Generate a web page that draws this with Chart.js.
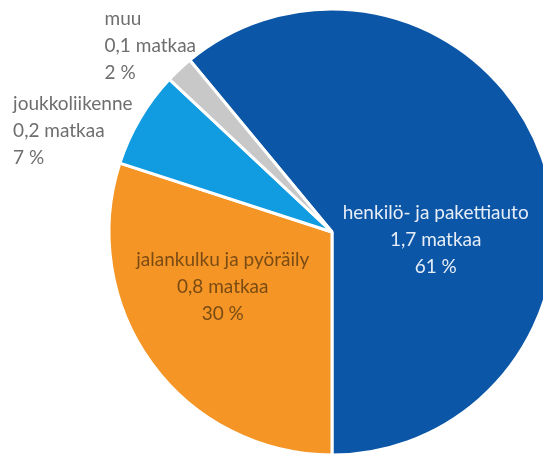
<!DOCTYPE html>
<html>
<head>
<meta charset="utf-8">
<script src="https://cdn.jsdelivr.net/npm/chart.js@4"></script>
<style>
html,body{margin:0;padding:0;background:#fff;}
#wrap{position:relative;width:543px;height:459px;overflow:hidden;}
canvas{display:block;}
</style>
</head>
<body>
<div id="wrap"><canvas id="c" width="543" height="459"></canvas></div>
<script>
// ---- data ----
const categories = ["henkilö- ja pakettiauto", "jalankulku ja pyöräily", "joukkoliikenne", "muu"];
const shares = [61, 30, 7, 2];          // %
const trips = ["1,7", "0,8", "0,2", "0,1"]; // matkaa
const tripUnit = "matkaa";

// ---- styles / layout (not data) ----
const colors = ["#0b56a6", "#f49526", "#119be0", "#c8c8c8"];
const textColors = ["#e6edf7", "#7a4c14", "#6e6e6e", "#6e6e6e"];
// label anchor relative to pie centre, in units of radius; align
const labelLayout = [
  {fx: 0.465, fy: 0.035, align: "center"},
  {fx: -0.49, fy: 0.245, align: "center"},
  {fx: -1.43, fy: -0.575, align: "left", top: true},
  {fx: -1.02, fy: -0.955, align: "left", top: true}
];
const FONT_SIZE = 19;
const LINE_H = 27;
const FONT = FONT_SIZE + "px Lato, 'Open Sans', sans-serif";

const labelPlugin = {
  id: "sliceLabels",
  afterDatasetsDraw(chart) {
    const meta = chart.getDatasetMeta(0);
    const ctx = chart.ctx;
    ctx.save();
    ctx.font = FONT;
    ctx.textBaseline = "middle";
    meta.data.forEach((arc, i) => {
      const L = labelLayout[i];
      const r = arc.outerRadius;
      const x = arc.x + L.fx * r;
      let y = arc.y + L.fy * r;
      const lines = [categories[i], trips[i] + " " + tripUnit, shares[i] + " %"];
      if (!L.top) y -= LINE_H;
      ctx.fillStyle = textColors[i];
      ctx.textAlign = L.align;
      lines.forEach((t, k) => ctx.fillText(t, x, y + k * LINE_H));
    });
    ctx.restore();
  }
};

new Chart(document.getElementById("c"), {
  type: "pie",
  data: {
    labels: categories,
    datasets: [{
      data: shares,
      backgroundColor: colors,
      borderColor: "#ffffff",
      borderWidth: 3,
      hoverOffset: 0
    }]
  },
  options: {
    responsive: false,
    animation: false,
    devicePixelRatio: 1,
    rotation: -39.6,
    radius: 223,
    layout: {padding: {left: 121, right: 0, top: 5, bottom: 0}},
    plugins: {legend: {display: false}, tooltip: {enabled: false}},
    events: []
  },
  plugins: [labelPlugin]
});
</script>
</body>
</html>
